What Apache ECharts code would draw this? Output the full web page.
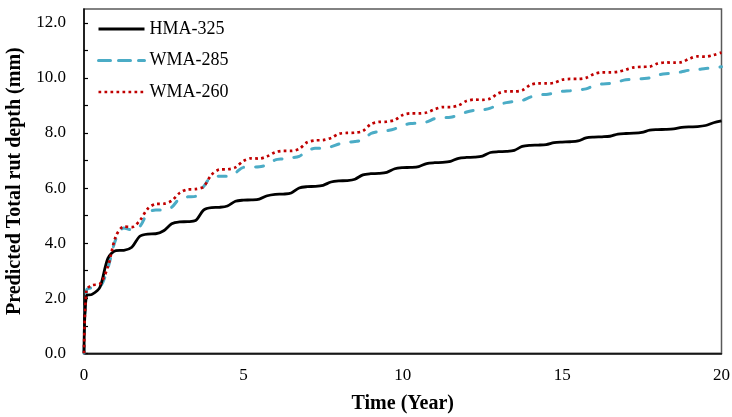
<!DOCTYPE html>
<html>
<head>
<meta charset="utf-8">
<script src="https://cdn.jsdelivr.net/npm/echarts@6/dist/echarts.min.js"></script>
<style>
  html, body { margin: 0; padding: 0; background: #fff; }
  #chart { width: 732px; height: 417px; }
</style>
</head>
<body>
<div id="chart"></div>
<script>
// Time since opening, in years (quarterly readings after the first month)
const years = [
  0, 0.08,
  0.25, 0.5, 0.75, 1,
  1.25, 1.5, 1.75, 2,
  2.25, 2.5, 2.75, 3,
  3.25, 3.5, 3.75, 4,
  4.25, 4.5, 4.75, 5,
  5.25, 5.5, 5.75, 6,
  6.25, 6.5, 6.75, 7,
  7.25, 7.5, 7.75, 8,
  8.25, 8.5, 8.75, 9,
  9.25, 9.5, 9.75, 10,
  10.25, 10.5, 10.75, 11,
  11.25, 11.5, 11.75, 12,
  12.25, 12.5, 12.75, 13,
  13.25, 13.5, 13.75, 14,
  14.25, 14.5, 14.75, 15,
  15.25, 15.5, 15.75, 16,
  16.25, 16.5, 16.75, 17,
  17.25, 17.5, 17.75, 18,
  18.25, 18.5, 18.75, 19,
  19.25, 19.5, 19.75, 20
];

// Predicted total rut depth (mm)
const hma325 = [
  0, 2.10,
  2.14, 2.40, 3.45, 3.73,
  3.74, 3.85, 4.25, 4.33,
  4.34, 4.45, 4.70, 4.77,
  4.78, 4.82, 5.20, 5.29,
  5.30, 5.35, 5.52, 5.56,
  5.57, 5.60, 5.72, 5.77,
  5.78, 5.82, 6.00, 6.05,
  6.06, 6.10, 6.22, 6.26,
  6.27, 6.32, 6.48, 6.52,
  6.53, 6.57, 6.70, 6.74,
  6.75, 6.78, 6.89, 6.92,
  6.93, 6.97, 7.08, 7.11,
  7.12, 7.16, 7.29, 7.32,
  7.33, 7.37, 7.51, 7.55,
  7.56, 7.58, 7.65, 7.67,
  7.68, 7.71, 7.82, 7.85,
  7.86, 7.88, 7.96, 7.98,
  7.99, 8.02, 8.10, 8.12,
  8.13, 8.15, 8.20, 8.22,
  8.23, 8.27, 8.37, 8.44
];

const wma285 = [
  0, 2.30,
  2.38, 2.42, 3.10, 4.15,
  4.55, 4.48, 4.60, 5.10,
  5.20, 5.20, 5.30, 5.62,
  5.68, 5.70, 6.05, 6.40,
  6.43, 6.43, 6.55, 6.75,
  6.76, 6.77, 6.85, 7.02,
  7.06, 7.10, 7.15, 7.35,
  7.44, 7.44, 7.50, 7.60,
  7.66, 7.69, 7.75, 7.98,
  8.05, 8.08, 8.15, 8.28,
  8.34, 8.36, 8.40, 8.52,
  8.55, 8.57, 8.65, 8.76,
  8.82, 8.84, 8.90, 9.03,
  9.10, 9.15, 9.18, 9.30,
  9.38, 9.40, 9.45, 9.51,
  9.53, 9.57, 9.60, 9.72,
  9.78, 9.80, 9.86, 9.93,
  9.94, 9.97, 10.00, 10.10,
  10.15, 10.16, 10.22, 10.28,
  10.30, 10.34, 10.36, 10.40
];

const wma260 = [
  0, 2.30,
  2.47, 2.52, 3.15, 4.25,
  4.60, 4.58, 4.82, 5.25,
  5.42, 5.43, 5.54, 5.82,
  5.95, 5.96, 6.05, 6.48,
  6.67, 6.68, 6.75, 6.98,
  7.08, 7.07, 7.15, 7.30,
  7.35, 7.35, 7.42, 7.66,
  7.73, 7.74, 7.82, 7.97,
  8.00, 8.01, 8.07, 8.32,
  8.40, 8.41, 8.47, 8.65,
  8.71, 8.71, 8.74, 8.86,
  8.94, 8.94, 9.00, 9.16,
  9.21, 9.20, 9.25, 9.44,
  9.51, 9.51, 9.55, 9.74,
  9.80, 9.80, 9.82, 9.93,
  9.96, 9.96, 10.00, 10.14,
  10.20, 10.20, 10.22, 10.30,
  10.38, 10.40, 10.41, 10.52,
  10.56, 10.55, 10.57, 10.70,
  10.78, 10.77, 10.83, 10.92
];

const seriesNames = ['HMA-325', 'WMA-285', 'WMA-260'];
const yTicks = [0, 1, 2, 3, 4, 5, 6, 7, 8, 9, 10, 11, 12];
const yLabels = [0, 2, 4, 6, 8, 10, 12];

const FONT = "'Times New Roman', 'Liberation Serif', serif";

// Line styles shared by each series and its legend entry
const styles = [
  { color: '#000000', width: 2.8, type: 'solid' },
  { color: '#4BACC6', width: 3, type: [8, 12], cap: 'round' },
  { color: '#C00000', width: 2.7, type: [2.7, 3.3] }
];

function pairs(values) {
  return years.map((t, i) => [t, values[i]]);
}

const chart = echarts.init(document.getElementById('chart'), null, { renderer: 'canvas' });

chart.setOption({
  backgroundColor: '#ffffff',
  animation: false,
  textStyle: { fontFamily: FONT, color: '#000' },
  grid: {
    left: 84, right: 10.5, top: 9, bottom: 63.7,
    outerBoundsMode: 'none',
    containLabel: false,
    show: true, borderColor: '#595959', borderWidth: 1.5, backgroundColor: 'transparent'
  },
  legend: {
    orient: 'vertical',
    left: 92, top: 15,
    itemWidth: 46, itemHeight: 14, itemGap: 13.5,
    itemStyle: { opacity: 0 },
    textStyle: { fontFamily: FONT, fontSize: 18, color: '#000' },
    data: seriesNames.map((n, i) => ({
      name: n,
      lineStyle: Object.assign({}, styles[i], i === 1 ? { type: [12, 8] } : {})
    }))
  },
  xAxis: {
    type: 'value',
    min: 0, max: 20, interval: 5,
    name: 'Time (Year)',
    nameLocation: 'middle',
    nameGap: 41,
    nameTextStyle: { fontFamily: FONT, fontSize: 20, fontWeight: 'bold', color: '#000' },
    axisLine: { show: true, onZero: false, lineStyle: { color: '#000', width: 1.5 } },
    axisTick: { show: false },
    axisLabel: { fontFamily: FONT, fontSize: 17, color: '#000', margin: 14 },
    splitLine: { show: false }
  },
  yAxis: {
    type: 'value',
    min: 0, max: 12.5,
    name: 'Predicted Total rut depth (mm)',
    nameLocation: 'middle',
    nameGap: 59,
    nameTextStyle: { fontFamily: FONT, fontSize: 20, fontWeight: 'bold', color: '#000' },
    axisLine: { show: true, onZero: false, lineStyle: { color: '#000', width: 1.5 } },
    axisTick: {
      show: true, inside: true, length: 4,
      customValues: yTicks,
      lineStyle: { color: '#000', width: 1.2 }
    },
    axisLabel: {
      fontFamily: FONT, fontSize: 17, color: '#000', margin: 18,
      customValues: yLabels,
      formatter: v => v.toFixed(1)
    },
    splitLine: { show: false }
  },
  series: [
    {
      name: seriesNames[0],
      type: 'line',
      data: pairs(hma325),
      smooth: 0.3,
      symbol: 'none',
      lineStyle: styles[0],
      itemStyle: { color: styles[0].color },
      z: 3
    },
    {
      name: seriesNames[1],
      type: 'line',
      data: pairs(wma285),
      smooth: 0.3,
      symbol: 'none',
      lineStyle: styles[1],
      itemStyle: { color: styles[1].color },
      z: 2
    },
    {
      name: seriesNames[2],
      type: 'line',
      data: pairs(wma260),
      smooth: 0.3,
      symbol: 'none',
      lineStyle: styles[2],
      itemStyle: { color: styles[2].color },
      z: 4
    }
  ]
});
</script>
</body>
</html>
